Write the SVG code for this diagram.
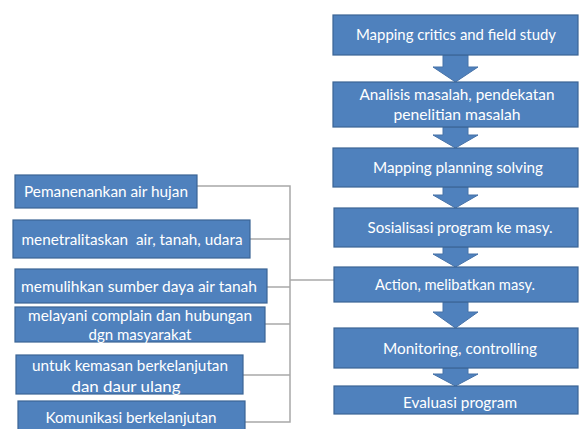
<svg xmlns="http://www.w3.org/2000/svg" width="582" height="429" viewBox="0 0 582 429">
<style>
.box{fill:#4F81BD;stroke:#3B6494;stroke-width:1.2}
.arr{fill:#4F81BD;stroke:#4672A8;stroke-width:1}
.t{font-family:Lato,"Open Sans","Liberation Sans",sans-serif;font-size:15px;fill:#FFFFFF;text-anchor:middle;white-space:pre}
.c{fill:none;stroke:#A8A8A8;stroke-width:1.5}
</style>
<rect width="582" height="429" fill="#FFFFFF"/>
<g id="connectors">
<polyline class="c" points="197,186 290,186 290,422 245,422"/>
<line class="c" x1="250" y1="239" x2="290" y2="239"/>
<line class="c" x1="267" y1="287" x2="290" y2="287"/>
<line class="c" x1="290" y1="280" x2="334" y2="280"/>
<line class="c" x1="265" y1="324" x2="290" y2="324"/>
<line class="c" x1="243" y1="375" x2="290" y2="375"/>
<path class="arr" d="M443,55 H468 V67 H478 L455.5,82 L433,67 H443 Z"/>
<path class="arr" d="M443,127 H468 V135 H478 L455.5,148 L433,135 H443 Z"/>
<path class="arr" d="M443,187 H468 V195 H478 L455.5,208 L433,195 H443 Z"/>
<path class="arr" d="M443,247 H468 V254 H478 L455.5,267 L433,254 H443 Z"/>
<path class="arr" d="M443,302 H468 V312 H478 L455.5,328 L433,312 H443 Z"/>
<path class="arr" d="M443,368 H468 V374 H478 L455.5,386 L433,374 H443 Z"/>
</g>
<g id="n1"><rect class="box" x="333" y="15" width="245" height="40"/><text class="t" x="456" y="40" textLength="200" lengthAdjust="spacingAndGlyphs">Mapping critics and field study</text></g>
<g id="n2"><rect class="box" x="333" y="82" width="245" height="45"/><text class="t" x="457" y="100" textLength="195" lengthAdjust="spacingAndGlyphs">Analisis masalah, pendekatan</text><text class="t" x="457" y="120" textLength="127" lengthAdjust="spacingAndGlyphs">penelitian masalah</text></g>
<g id="n3"><rect class="box" x="333" y="148" width="245" height="39"/><text class="t" x="458" y="173" textLength="170" lengthAdjust="spacingAndGlyphs">Mapping planning solving</text></g>
<g id="n4"><rect class="box" x="334" y="208" width="244" height="39"/><text class="t" x="460" y="233" textLength="185" lengthAdjust="spacingAndGlyphs">Sosialisasi program ke masy.</text></g>
<g id="n5"><rect class="box" x="334" y="267" width="244" height="35"/><text class="t" x="455" y="290" textLength="160" lengthAdjust="spacingAndGlyphs">Action, melibatkan masy.</text></g>
<g id="n6"><rect class="box" x="334" y="328" width="244" height="40"/><text class="t" x="460" y="354" textLength="154" lengthAdjust="spacingAndGlyphs">Monitoring, controlling</text></g>
<g id="n7"><rect class="box" x="334" y="386" width="244" height="28"/><text class="t" x="460" y="408" textLength="114" lengthAdjust="spacingAndGlyphs">Evaluasi program</text></g>
<g id="l1"><rect class="box" x="15" y="175" width="182" height="33"/><text class="t" x="106" y="197" textLength="164" lengthAdjust="spacingAndGlyphs">Pemanenankan air hujan</text></g>
<g id="l2"><rect class="box" x="13" y="220" width="237" height="38"/><text class="t" x="132" y="245" textLength="221" lengthAdjust="spacingAndGlyphs">menetralitaskan  air, tanah, udara</text></g>
<g id="l3"><rect class="box" x="15" y="269" width="252" height="34"/><text class="t" x="139" y="292" textLength="236" lengthAdjust="spacingAndGlyphs">memulihkan sumber daya air tanah</text></g>
<g id="l4"><rect class="box" x="15" y="307" width="250" height="35"/><text class="t" x="140" y="321" textLength="224" lengthAdjust="spacingAndGlyphs">melayani complain dan hubungan</text><text class="t" x="140" y="340" textLength="103" lengthAdjust="spacingAndGlyphs">dgn masyarakat</text></g>
<g id="l5"><rect class="box" x="16" y="355" width="227" height="39"/><text class="t" x="130" y="371" textLength="196" lengthAdjust="spacingAndGlyphs">untuk kemasan berkelanjutan</text><text class="t" x="126" y="392" textLength="109" lengthAdjust="spacingAndGlyphs">dan daur ulang</text></g>
<g id="l6"><rect class="box" x="18" y="401" width="227" height="32"/><text class="t" x="131" y="423" textLength="171" lengthAdjust="spacingAndGlyphs">Komunikasi berkelanjutan</text></g>
</svg>
